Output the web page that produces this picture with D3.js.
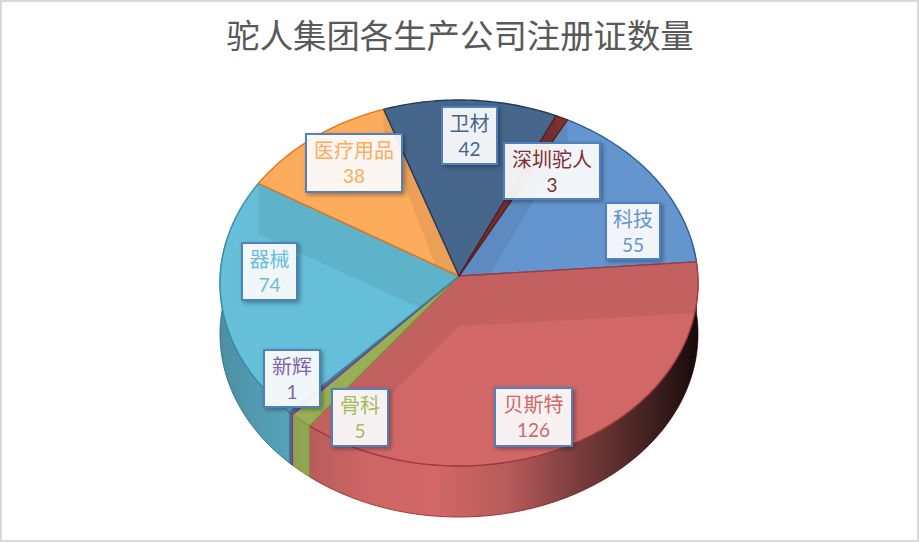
<!DOCTYPE html>
<html lang="zh">
<head>
<meta charset="utf-8">
<title>驼人集团各生产公司注册证数量</title>
<script src="https://d3js.org/d3.v7.min.js"></script>
<style>
  html, body { margin: 0; padding: 0; background: #fff; }
  svg { display: block; }
</style>
</head>
<body>
<div id="chart"></div>
<script>
// data, clockwise from the top
var categories = ["科技", "贝斯特", "骨科", "新辉", "器械", "医疗用品", "卫材", "深圳驼人"];
var values = [55, 126, 5, 1, 74, 38, 42, 3];
var colors = ["#6495cf", "#d16767", "#a3bc5e", "#7f65a5", "#65bfd9", "#fdab5d", "#46668c", "#7c3233"];
var edges = ["#2f5f95", "#a03a3c", "#7f9a3a", "#5f4a8b", "#3c8aa3", "#e8751a", "#22395a", "#5a1f20"];

// label box corners: left, top, right, bottom
var labelBoxes = [
  [606, 203, 660, 259],
  [495, 388, 572, 446],
  [332, 389, 388, 446],
  [264, 350, 320, 407],
  [242, 243, 297, 300],
  [306, 134, 402, 192],
  [442, 107, 497, 164],
  [504, 143, 600, 199]
];

var w = 919, h = 542;
var apex = [459, 276];       // where the slices meet
var cx = 459, cy = 283;      // rim ellipse centre (perspective puts it below the apex)
var rx = 239, ry = 183;
var centerDepth = 50;

var rimDepth = d3.scaleLinear().domain([112, 184]).range([22, 51]).clamp(true);

var svg = d3.select("#chart").append("svg")
  .attr("width", w)
  .attr("height", h);

var defs = svg.append("defs");

var shadow = defs.append("filter").attr("id", "boxShadow")
  .attr("x", "-20%").attr("y", "-20%").attr("width", "150%").attr("height", "150%");
shadow.append("feDropShadow")
  .attr("dx", 2).attr("dy", 2).attr("stdDeviation", 2)
  .attr("flood-color", "#000").attr("flood-opacity", 0.35);

// shading of the outer wall, left to right
var grad = defs.append("linearGradient").attr("id", "wallShade")
  .attr("gradientUnits", "userSpaceOnUse")
  .attr("x1", 220).attr("x2", 699).attr("y1", 0).attr("y2", 0);
[[0, 0.25], [0.15, 0.14], [0.3, 0.02], [0.45, 0], [0.6, 0.12], [0.75, 0.42], [0.88, 0.65], [1, 0.9]]
  .forEach(function(s) {
    grad.append("stop").attr("offset", s[0]).attr("stop-color", "#000").attr("stop-opacity", s[1]);
  });

svg.append("rect")
  .attr("x", 1).attr("y", 1).attr("width", w - 2).attr("height", h - 2)
  .attr("fill", "#fff").attr("stroke", "#d9d9d9").attr("stroke-width", 2);

svg.append("text")
  .attr("x", 460).attr("y", 48)
  .attr("text-anchor", "middle")
  .attr("font-family", "'Noto Sans CJK SC', sans-serif")
  .attr("font-size", 33.4)
  .attr("fill", "#595959")
  .text("驼人集团各生产公司注册证数量");

var startAngle = 28 * Math.PI / 180;
var pie = d3.pie().sort(null)
  .startAngle(startAngle)
  .endAngle(startAngle + 2 * Math.PI);
var slices = pie(values);

// ray from the apex along the angle, cut with the rim ellipse
function rimPoint(a) {
  var dx = rx * Math.sin(a), dy = -ry * Math.cos(a);
  var ox = apex[0] - cx, oy = apex[1] - cy;
  var A = dx * dx / (rx * rx) + dy * dy / (ry * ry);
  var B = 2 * (ox * dx / (rx * rx) + oy * dy / (ry * ry));
  var C = ox * ox / (rx * rx) + oy * oy / (ry * ry) - 1;
  var t = (-B + Math.sqrt(B * B - 4 * A * C)) / (2 * A);
  return [apex[0] + dx * t, apex[1] + dy * t];
}
function drop(p) {
  return [p[0], p[1] + rimDepth(p[1])];
}
function arcPoints(a0, a1) {
  var n = Math.max(2, Math.ceil((a1 - a0) / 0.02));
  return d3.range(n + 1).map(function(i) { return rimPoint(a0 + (a1 - a0) * i / n); });
}

var line = d3.line();
function shape(pts) { return line(pts) + "Z"; }

// outer wall, only the part that faces the viewer
var wallG = svg.append("g");
slices.forEach(function(d, i) {
  var lo = Math.PI * 0.44, hi = Math.PI * 1.56;
  var a0 = Math.max(d.startAngle, lo), a1 = Math.min(d.endAngle, hi);
  if (a1 <= a0) return;
  var rim = arcPoints(a0, a1);
  var pts = rim.concat(rim.map(drop).reverse());
  wallG.append("path").attr("d", shape(pts))
    .attr("fill", colors[i]).attr("stroke", edges[i]).attr("stroke-width", 1);
  wallG.append("path").attr("d", shape(pts)).attr("fill", "url(#wallShade)");
});

// top faces, with the inner cut walls showing through
var topG = svg.append("g");
slices.forEach(function(d, i) {
  var pts = [apex].concat(arcPoints(d.startAngle, d.endAngle));
  var id = "face" + i;
  defs.append("clipPath").attr("id", id).append("path").attr("d", shape(pts));
  topG.append("path").attr("d", shape(pts)).attr("fill", colors[i]);

  var g = topG.append("g").attr("clip-path", "url(#" + id + ")");
  [d.startAngle, d.endAngle].forEach(function(a) {
    var p = rimPoint(a);
    g.append("path")
      .attr("d", shape([apex, p, drop(p), [apex[0], apex[1] + centerDepth]]))
      .attr("fill", "#000").attr("fill-opacity", 0.065);
  });
  topG.append("path").attr("d", shape(pts))
    .attr("fill", "none").attr("stroke", edges[i]).attr("stroke-width", 1.4)
    .attr("stroke-linejoin", "round");
});

// data labels
var labelG = svg.append("g");
slices.forEach(function(d, i) {
  var b = labelBoxes[i];
  var mid = (b[0] + b[2]) / 2;
  labelG.append("rect")
    .attr("x", b[0]).attr("y", b[1])
    .attr("width", b[2] - b[0]).attr("height", b[3] - b[1])
    .attr("fill", "#fff").attr("fill-opacity", 0.9)
    .attr("stroke", "#4f81bd").attr("stroke-width", 2)
    .attr("filter", "url(#boxShadow)");
  labelG.append("text")
    .attr("x", mid).attr("y", b[1] + 24)
    .attr("text-anchor", "middle")
    .attr("font-family", "'Noto Sans CJK SC', sans-serif")
    .attr("font-size", 20)
    .attr("fill", colors[i])
    .text(categories[i]);
  labelG.append("text")
    .attr("x", mid).attr("y", b[1] + 49)
    .attr("text-anchor", "middle")
    .attr("font-family", "Lato, sans-serif")
    .attr("font-size", 19)
    .attr("fill", colors[i])
    .text(values[i]);
});
</script>
</body>
</html>
